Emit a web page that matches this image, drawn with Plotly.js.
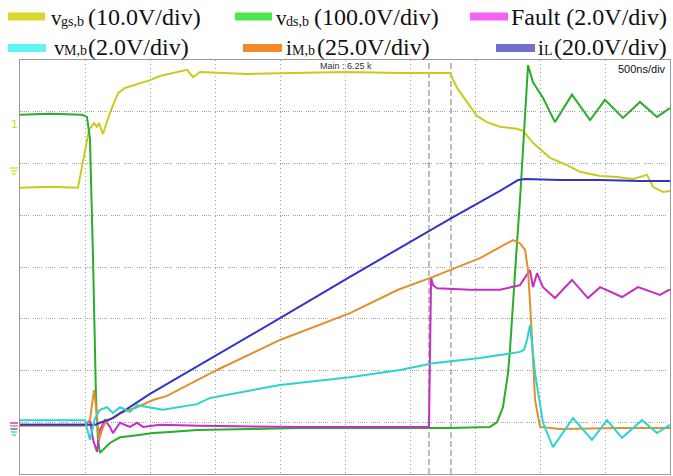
<!DOCTYPE html>
<html>
<head>
<meta charset="utf-8">
<script src="https://cdn.plot.ly/plotly-3.0.1.min.js"></script>
<style>
  html, body { margin: 0; padding: 0; background: #fff; }
  #chart { width: 673px; height: 476px; }
</style>
</head>
<body>
<div id="chart"></div>
<script>
// Time base: 500 ns/div, 10 divisions. Values are in screen divisions (0..8).
const tVgs = [0, 231, 446, 531, 569, 592, 608, 638, 692, 754, 808, 1000, 1077, 1285, 1331, 1385, 1750, 2154, 2500, 2923, 3308, 3323, 3362, 3438, 3515, 3592, 3692, 3823, 3869, 3946, 4077, 4208, 4308, 4462, 4592, 4715, 4823, 4869, 4946, 5000];
const vVgs = [5.53, 5.55, 5.53, 6.65, 6.78, 6.71, 6.78, 6.57, 6.98, 7.36, 7.46, 7.61, 7.69, 7.81, 7.67, 7.77, 7.73, 7.75, 7.77, 7.75, 7.75, 7.67, 7.46, 7.19, 6.92, 6.80, 6.71, 6.67, 6.63, 6.40, 6.11, 5.97, 5.84, 5.76, 5.74, 5.70, 5.78, 5.55, 5.45, 5.47];

const tVds = [0, 231, 477, 515, 531, 538, 562, 585, 600, 615, 692, 769, 900, 1023, 1154, 1362, 1769, 2154, 2923, 3308, 3615, 3669, 3715, 3754, 3769, 3792, 3823, 3846, 3862, 3885, 3908, 3946, 4023, 4115, 4246, 4385, 4500, 4638, 4769, 4900, 5000];
const vVds = [6.94, 6.96, 6.94, 6.90, 6.61, 6.49, 4.14, 1.43, 0.66, 0.41, 0.60, 0.71, 0.75, 0.79, 0.81, 0.85, 0.87, 0.89, 0.89, 0.89, 0.91, 1.00, 1.29, 1.95, 2.40, 3.36, 4.46, 5.29, 5.97, 7.13, 7.90, 7.57, 7.27, 6.80, 7.33, 6.84, 7.23, 6.88, 7.19, 6.90, 7.07];

const tFault = [0, 500, 538, 562, 592, 615, 654, 692, 715, 769, 846, 900, 946, 1077, 1385, 2154, 2923, 3146, 3162, 3177, 3208, 3462, 3692, 3846, 3923, 3946, 3977, 4023, 4115, 4246, 4369, 4462, 4631, 4754, 4923, 5000];
const vFault = [0.95, 0.95, 1.04, 0.66, 0.43, 0.85, 1.04, 0.91, 0.79, 0.99, 0.91, 0.99, 0.91, 0.95, 0.93, 0.91, 0.91, 0.91, 3.79, 3.65, 3.59, 3.56, 3.56, 3.65, 3.94, 3.61, 3.88, 3.61, 3.40, 3.75, 3.40, 3.61, 3.42, 3.61, 3.46, 3.57];

const tVm = [0, 500, 538, 577, 615, 669, 715, 769, 846, 900, 1100, 1231, 1362, 1462, 1692, 2000, 2538, 2923, 3177, 3538, 3846, 3877, 3900, 3923, 3962, 4023, 4100, 4254, 4400, 4515, 4631, 4785, 4900, 5000];
const vVm = [1.04, 1.04, 0.66, 1.08, 1.24, 1.29, 1.18, 1.29, 1.20, 1.33, 1.24, 1.30, 1.35, 1.47, 1.58, 1.72, 1.87, 2.01, 2.14, 2.24, 2.36, 2.40, 2.59, 2.88, 1.95, 0.99, 0.52, 1.08, 0.66, 1.04, 0.70, 1.04, 0.79, 0.95];

const tIm = [0, 500, 538, 569, 592, 608, 631, 654, 769, 900, 1023, 1131, 1515, 2000, 2538, 2908, 3177, 3538, 3792, 3846, 3885, 3908, 3931, 3962, 4000, 4154, 4615, 5000];
const vIm = [0.93, 0.93, 1.04, 1.62, 1.14, 0.66, 0.85, 0.99, 1.18, 1.29, 1.43, 1.51, 2.01, 2.59, 3.11, 3.56, 3.81, 4.17, 4.52, 4.46, 4.33, 3.94, 2.98, 1.43, 0.91, 0.87, 0.89, 0.89];

const tIl = [0, 577, 615, 715, 1000, 1385, 2000, 2538, 2923, 3308, 3692, 3831, 3885, 4154, 4462, 4769, 5000];
const vIl = [0.95, 0.95, 0.99, 1.08, 1.55, 2.11, 3.01, 3.81, 4.37, 4.93, 5.47, 5.68, 5.70, 5.68, 5.68, 5.66, 5.66];

// Cursor positions (ns)
const cursorTimes = [3146, 3315];

// Channel labels: symbol, subscript, scale
const channels = [
  {sym: 'v', sub: 'gs,b', scale: '(10.0V/div)', swatch: '#d9d92b', color: '#caca1e', t: tVgs, v: vVgs},
  {sym: 'v', sub: 'ds,b', scale: '(100.0V/div)', swatch: '#4ee84e', color: '#2aae2a', t: tVds, v: vVds},
  {sym: '', sub: '', scale: 'Fault (2.0V/div)', swatch: '#f463f4', color: '#c42ec4', t: tFault, v: vFault},
  {sym: 'v', sub: 'M,b', scale: '(2.0V/div)', swatch: '#5ef5f5', color: '#2fd2d2', t: tVm, v: vVm},
  {sym: 'i', sub: 'M,b', scale: '(25.0V/div)', swatch: '#f48a2c', color: '#e2902e', t: tIm, v: vIm},
  {sym: 'i', sub: 'L', scale: '(20.0V/div)', swatch: '#7070c8', color: '#3434c4', t: tIl, v: vIl}
];

// Plot area in pixels
const L = 20, R = 670, T = 60, B = 474;
const px = x => (x - L) / (R - L);
const py = y => (B - y) / (B - T);

const drawOrder = [0, 1, 2, 4, 5, 3];
const traces = drawOrder.map(i => ({
  x: channels[i].t, y: channels[i].v, type: 'scatter', mode: 'lines',
  line: {color: channels[i].color, width: 2},
  hoverinfo: 'skip', showlegend: false
}));

// Legend layout (3 columns x 2 rows): swatch span, text row, symbol / subscript / scale x
const legendPos = [
  {sx: [8, 45], sy: [12.5, 20.5], ty: 17, x: [50, 60, 87]},
  {sx: [235, 272], sy: [12.5, 20.5], ty: 17, x: [275, 285, 313]},
  {sx: [470, 508], sy: [12.5, 20.5], ty: 17, x: [0, 0, 510]},
  {sx: [8, 46], sy: [44, 52], ty: 47, x: [53, 63, 87]},
  {sx: [243, 282], sy: [44, 52], ty: 47, x: [285, 291, 316]},
  {sx: [496, 535], sy: [44, 52], ty: 47, x: [537, 543, 553]}
];

const serif = 'Liberation Serif, Times New Roman, serif';
const shapes = [];
const annotations = [];
const label = (x, y, text, size) => annotations.push({xref: 'paper', yref: 'paper',
  x: px(x), y: py(y), xanchor: 'left', yanchor: 'middle', showarrow: false, text: text,
  borderpad: 0, font: {family: serif, size: size, color: '#111'}});

channels.forEach((c, i) => {
  const p = legendPos[i];
  shapes.push({type: 'rect', xref: 'paper', yref: 'paper',
    x0: px(p.sx[0]), x1: px(p.sx[1]), y0: py(p.sy[1]), y1: py(p.sy[0]),
    fillcolor: c.swatch, line: {width: 0}});
  if (c.sym) label(p.x[0], p.ty + 1, c.sym, 21);
  if (c.sub) label(p.x[1], p.ty + 4, c.sub, 14);
  label(p.x[2], p.ty, c.scale, 24);
});

cursorTimes.forEach(t => shapes.push({type: 'line', xref: 'x', yref: 'paper',
  x0: t, x1: t, y0: 0, y1: 1, line: {color: '#a8a8a8', width: 1.5, dash: '6px,3px'}, layer: 'below'}));

// Channel ground markers on the left edge (short stacked bars)
const groundMarks = [
  {y: 168, w: 8, color: '#e0e040'}, {y: 171, w: 6, color: '#e0e040'}, {y: 174, w: 4, color: '#e0e040'},
  {y: 423, w: 8, color: '#c040c0'}, {y: 426, w: 8, color: '#e8902e'},
  {y: 429, w: 7, color: '#6060d0'}, {y: 432, w: 6, color: '#40e0e0'}, {y: 435, w: 4, color: '#40e0e0'}
];
groundMarks.forEach(g => shapes.push({type: 'line', xref: 'paper', yref: 'paper',
  x0: px(14 - g.w / 2), x1: px(14 + g.w / 2), y0: py(g.y), y1: py(g.y),
  line: {color: g.color, width: 1.5}}));

annotations.push({xref: 'paper', yref: 'paper', x: px(318), y: py(66), xanchor: 'left', yanchor: 'middle',
  showarrow: false, text: 'Main : 6.25 k', font: {family: 'Liberation Sans, Arial, sans-serif', size: 9, color: '#333'}});
annotations.push({xref: 'paper', yref: 'paper', x: px(668), y: py(69), xanchor: 'right', yanchor: 'middle',
  showarrow: false, text: '500ns/div', font: {family: 'Liberation Sans, Arial, sans-serif', size: 11, color: '#111'}});
annotations.push({xref: 'paper', yref: 'paper', x: px(14), y: py(124), xanchor: 'center', yanchor: 'middle',
  showarrow: false, text: '1', font: {family: 'DejaVu Sans, sans-serif', size: 11, color: '#d8d820'}});

const layout = {
  width: 673, height: 476,
  margin: {l: L, r: 673 - R, t: T, b: 476 - B, pad: 0},
  paper_bgcolor: '#fff', plot_bgcolor: '#fff',
  showlegend: false,
  xaxis: {range: [0, 5000], dtick: 500, tick0: 0, showticklabels: false, ticks: '',
    showgrid: true, gridcolor: '#a0a0a0', gridwidth: 1, griddash: '1px,3px',
    zeroline: false, showline: true, linecolor: '#9a9a9a', linewidth: 1, mirror: true, fixedrange: true},
  yaxis: {range: [0, 8], dtick: 1, tick0: 0, showticklabels: false, ticks: '',
    showgrid: true, gridcolor: '#a0a0a0', gridwidth: 1,
    griddash: '1px,1px,1px,1px,1px,1px,1px,1px,1px,4px',
    zeroline: false, showline: true, linecolor: '#9a9a9a', linewidth: 1, mirror: true, fixedrange: true},
  shapes: shapes,
  annotations: annotations
};

Plotly.newPlot('chart', traces, layout, {staticPlot: true, displayModeBar: false});
</script>
</body>
</html>
